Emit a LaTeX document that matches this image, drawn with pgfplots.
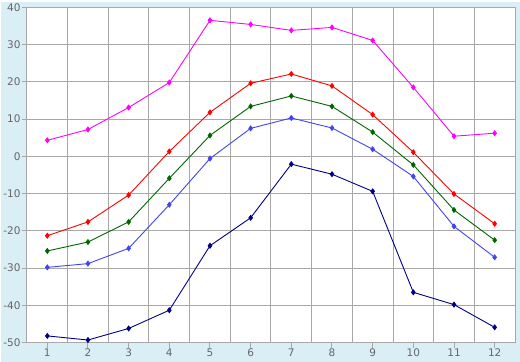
\documentclass[border=0pt]{standalone}
\usepackage{fontspec}
\setmainfont{DejaVu Sans}
\usepackage{pgfplots}
\pgfplotsset{compat=1.18}
\definecolor{bg}{HTML}{DAEEF5}
\definecolor{gridc}{HTML}{A8A8A8}
\definecolor{txt}{HTML}{666666}
\definecolor{cmag}{HTML}{FF00FF}
\definecolor{cred}{HTML}{FF0000}
\definecolor{cgreen}{HTML}{006600}
\definecolor{cblue}{HTML}{4444EE}
\definecolor{cnavy}{HTML}{000088}
\begin{document}
\begin{tikzpicture}[x=1pt,y=1pt]
\fill[bg] (-26,-19) rectangle (494,341);
\begin{axis}[
  at={(0,0)}, anchor=south west,
  scale only axis, width=489pt, height=336pt,
  xmin=0.5, xmax=12.5, ymin=-50, ymax=40,
  xtick={1,...,12}, ytick={-50,-40,...,40},
  minor xtick={0.5,1.5,...,12.5},
  xminorgrids, ymajorgrids,
  grid style={gridc, line width=1pt},
  minor grid style={gridc, line width=1pt},
  axis line style={gridc, line width=1pt},
  tick style={gridc, line width=1pt},
  major tick length=5pt, minor tick length=0pt,
  tick align=outside,
  xtick pos=bottom, ytick pos=left,
  axis background/.style={fill=white},
  tick label style={font=\fontsize{10.5}{12}\selectfont, text=txt},
  /pgf/number format/assume math mode=true,
  yticklabel style={xshift=2pt},
  xticklabel style={yshift=2pt},
  every axis plot/.append style={line width=0.9pt, mark=diamond*, mark size=2.4pt},
  clip=false,
]
\addplot[cmag, mark options={fill=cmag}] coordinates {(1,4.3)(2,7.2)(3,13.1)(4,19.8)(5,36.5)(6,35.4)(7,33.8)(8,34.6)(9,31.1)(10,18.5)(11,5.4)(12,6.2)};
\addplot[cred, mark options={fill=cred}] coordinates {(1,-21.3)(2,-17.6)(3,-10.4)(4,1.3)(5,11.8)(6,19.6)(7,22.1)(8,18.9)(9,11.2)(10,1.1)(11,-10.1)(12,-18.1)};
\addplot[cgreen, mark options={fill=cgreen}] coordinates {(1,-25.4)(2,-23.0)(3,-17.6)(4,-5.9)(5,5.6)(6,13.4)(7,16.2)(8,13.4)(9,6.5)(10,-2.3)(11,-14.4)(12,-22.5)};
\addplot[cblue, mark options={fill=cblue}] coordinates {(1,-29.8)(2,-28.8)(3,-24.7)(4,-13.0)(5,-0.6)(6,7.5)(7,10.3)(8,7.6)(9,1.9)(10,-5.4)(11,-18.8)(12,-27.1)};
\addplot[cnavy, mark options={fill=cnavy}] coordinates {(1,-48.2)(2,-49.3)(3,-46.2)(4,-41.3)(5,-24.0)(6,-16.5)(7,-2.1)(8,-4.8)(9,-9.4)(10,-36.5)(11,-39.8)(12,-45.9)};
\end{axis}
\end{tikzpicture}
\end{document}
